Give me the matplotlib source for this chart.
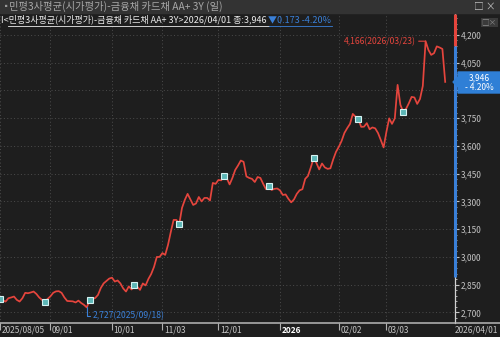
import matplotlib
matplotlib.use("Agg")
import matplotlib.pyplot as plt
import matplotlib.transforms as mtransforms
from matplotlib.patches import Rectangle, Polygon
from matplotlib.lines import Line2D
from matplotlib.ticker import FuncFormatter, MultipleLocator

W, H = 500, 337
plt.rcParams['font.family'] = ['Noto Sans CJK KR', 'DejaVu Sans']

# daily closes, 2025/08/05 .. 2026/04/01 (trading days)
values = [
    2773, 2765, 2759, 2777, 2781, 2786, 2768, 2759, 2777, 2806,
    2804, 2808, 2813, 2800, 2781, 2768, 2759, 2773, 2787, 2806,
    2814, 2815, 2806, 2781, 2762, 2761, 2760, 2754, 2764, 2751,
    2741, 2727, 2768, 2773, 2778, 2795, 2832, 2857, 2870, 2883,
    2888, 2867, 2873, 2857, 2830, 2813, 2841, 2824, 2851, 2840,
    2822, 2857, 2846, 2881, 2908, 2946, 3000, 3000, 3021, 3011,
    3065, 3135, 3200, 3200, 3176, 3265, 3308, 3341, 3311, 3281,
    3289, 3324, 3300, 3319, 3319, 3305, 3400, 3395, 3416, 3414,
    3440, 3425, 3392, 3427, 3470, 3494, 3521, 3514, 3435, 3427,
    3422, 3405, 3432, 3427, 3395, 3366, 3384, 3362, 3368, 3370,
    3360, 3335, 3338, 3314, 3295, 3311, 3341, 3360, 3366, 3422,
    3438, 3484, 3533, 3508, 3473, 3505, 3484, 3476, 3479, 3527,
    3568, 3595, 3627, 3670, 3696, 3719, 3773, 3757, 3743, 3703,
    3704, 3723, 3690, 3700, 3695, 3670, 3632, 3592, 3676, 3749,
    3719, 3749, 3930, 3822, 3785, 3800, 3830, 3865, 3862, 3827,
    3854, 3924, 4166, 4119, 4092, 4101, 4138, 4132, 4124, 3946,
]
tick_idx = [0, 18, 40, 58, 78, 100, 121, 138]
tick_labels = ["2025/08/05", "09/01", "10/01", "11/03", "12/01", "2026", "02/02", "03/03"]
last_date = "2026/04/01"
y_ticks = list(range(2700, 4201, 150))
max_date = "2026/03/23"
min_date = "2025/09/18"
change = 0.173
change_pct = -4.20
marker_step = 16

BG = "#1e1e1e"
BAR = "#333333"
RED = "#e5453d"
BLUE = "#3a80d8"
GREY = "#c4c4c4"


def fx(px):
    return px / W


def fy(py):
    return 1 - py / H


fig = plt.figure(figsize=(W / 100, H / 100), dpi=100, facecolor=BG)

# title bar
fig.patches.append(Rectangle((0, fy(13)), 1, 13 / H, transform=fig.transFigure,
                             color=BAR, zorder=0))
fig.text(fx(2), fy(6.5), "▪", color="#9a9a9a", fontsize=6, va="center")
fig.text(fx(9), fy(6.5), "민평3사평균(시가평가)-금융채 카드채 AA+ 3Y (일)",
         color="#a8a8a8", fontsize=7.4, va="center")
fig.text(fx(496), fy(6.5), "□ ×", color="#bdbdbd", fontsize=7, va="center", ha="right")
fig.text(fx(497), fy(22.5), "□×", color="#8c8c8c", fontsize=5.5, va="center", ha="right",
         bbox=dict(boxstyle="square,pad=0.1", fc="#3a3a3a", ec="none"))

ax = fig.add_axes([0, (H - 323) / H, 455 / W, (323 - 14) / H])
ax.set_facecolor("none")
for s in ax.spines.values():
    s.set_visible(False)

x = list(range(len(values)))
ax.plot(x, values, color=RED, lw=1.25, zorder=3)
ax.plot(x[::marker_step], values[::marker_step], ls="none", marker="s", ms=3.8,
        mfc="#5cb6b6", mec="#d6f3f3", mew=0.8, zorder=4)

ax.set_xlim(0, 455 / 2.8)
ax.set_ylim(2643, 4313)
ax.set_yticks(y_ticks)
ax.yaxis.set_minor_locator(MultipleLocator(30))
ax.set_xticks(tick_idx)
ax.grid(True, color="#4c4c4c", linestyle=(0, (1, 2.5)), lw=0.7)
ax.yaxis.tick_right()
ax.yaxis.set_major_formatter(FuncFormatter(lambda v, p: "" if v == 3900 else f"{int(v):,}"))
ax.tick_params(axis="y", which="major", colors=GREY, length=3, pad=1, labelsize=6)
ax.tick_params(axis="y", which="minor", colors=GREY, length=1.5)
ax.tick_params(axis="x", colors="#b0b0b0", length=5, labelbottom=False)

lbl_tr = mtransforms.offset_copy(ax.get_xaxis_transform(), fig=fig, x=1.5, y=0, units="dots")
for i, t in zip(tick_idx, tick_labels):
    bold = t == "2026"
    ax.text(i, -0.024, t, transform=lbl_tr, ha="left", va="center", fontsize=6,
            color="white" if bold else GREY, fontweight="bold" if bold else "normal",
            clip_on=False)

# right axis coloured range bars
yt = ax.get_yaxis_transform()
ax.plot([1, 1], [2643, 4313], transform=yt, color="#d0d0d0", lw=0.9, clip_on=False, zorder=5)
ax.plot([1, 1], [4140, 4313], transform=yt, color=RED, lw=2.2, clip_on=False, zorder=6,
        solid_capstyle="butt")
ax.plot([1, 1], [2890, 4140], transform=yt, color=BLUE, lw=2.2, clip_on=False, zorder=6,
        solid_capstyle="butt")

# max / min annotations
i_max = values.index(max(values))
i_min = values.index(min(values))
ax.annotate(f"{values[i_max]:,}({max_date})", xy=(i_max, values[i_max]),
            xytext=(-7, 0), textcoords="offset points", ha="right", va="center",
            fontsize=6.2, color=RED,
            arrowprops=dict(arrowstyle="-", color=RED, lw=0.8, shrinkA=0, shrinkB=0))
ax.annotate(f"{values[i_min]:,}({min_date})", xy=(i_min, values[i_min]),
            xytext=(4.5, -6), textcoords="offset points", ha="left", va="center",
            fontsize=6.2, color=BLUE,
            arrowprops=dict(arrowstyle="-", color=BLUE, lw=0.8, shrinkA=0, shrinkB=0,
                            connectionstyle="angle,angleA=0,angleB=90,rad=0"))

# bottom axis line
fig.lines.append(Line2D([0, 1], [fy(323), fy(323)], transform=fig.transFigure,
                        color="#b8b8b8", lw=1.1))
fig.text(fx(498), fy(330), last_date, ha="right", va="center", fontsize=6, color=GREY)

# header line 2
last = values[-1]
t1 = fig.text(fx(1), fy(19.5), f"I<민평3사평균(시가평가)-금융채 카드채 AA+ 3Y>{last_date} 종:{last:,} ",
              color="#ececec", fontsize=6.5, va="center")
fig.canvas.draw()
bb = t1.get_window_extent()
t2 = fig.text(bb.x1 / W, fy(19.5), f"▼{change:.3f} {change_pct:.2f}%", color=BLUE,
              fontsize=6.5, va="center")
fig.canvas.draw()
bb2 = t2.get_window_extent()
fig.lines.append(Line2D([fx(8), bb.x1 / W], [fy(26), fy(26)], transform=fig.transFigure,
                        color="#ececec", lw=0.6))
fig.lines.append(Line2D([bb.x1 / W, bb2.x1 / W], [fy(26), fy(26)], transform=fig.transFigure,
                        color=BLUE, lw=0.6))

# current value tag
pts = [(453, 82), (458, 77), (458, 72), (500, 72), (500, 93), (458, 93), (458, 87)]
fig.patches.append(Polygon([(fx(a), fy(b)) for a, b in pts], closed=True,
                           transform=fig.transFigure, color="#2f7fd6", zorder=5))
fig.text(fx(479), fy(77.5), f"{last:,}", color="white", fontsize=6, ha="center", va="center",
         zorder=6)
fig.text(fx(479), fy(88), f"- {abs(change_pct):.2f}%", color="white", fontsize=6,
         ha="center", va="center", zorder=6)

fig.savefig("out.png", dpi=100, facecolor=BG)
